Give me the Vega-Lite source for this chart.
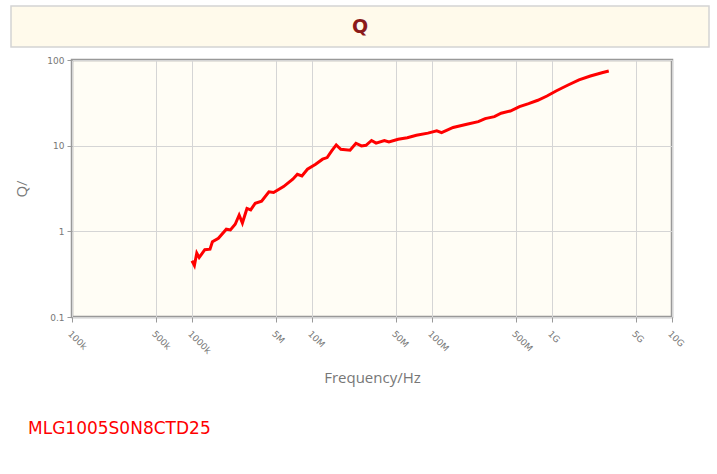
{
  "$schema": "https://vega.github.io/schema/vega-lite/v6.json",
  "padding": {"left": 10, "top": 5, "right": 5, "bottom": 5},
  "background": "white",
  "config": {"view": {"stroke": null}, "concat": {"spacing": 6}, "font": "DejaVu Sans"},
  "vconcat": [
    {
      "width": 698,
      "height": 41,
      "view": {"fill": "#fffaeb", "stroke": "#d4d4d4", "strokeWidth": 1.5},
      "data": {"values": [{"t": "Q"}]},
      "mark": {"type": "text", "fontSize": 19, "fontWeight": "bold", "color": "#8b1a1a", "font": "DejaVu Sans", "baseline": "middle"},
      "encoding": {"text": {"field": "t"}}
    },
    {
      "spacing": 0,
      "hconcat": [
        {
          "width": 1,
          "height": 1,
          "data": {"values": [{"t": ""}]},
          "mark": {"type": "text"},
          "encoding": {"text": {"field": "t"}}
        },
        {
          "width": 600,
          "height": 257,
          "view": {"fill": "#fffdf5", "stroke": "#999999", "strokeWidth": 2.5},
          "title": {"text": "MLG1005S0N8CTD25", "orient": "bottom", "anchor": "start", "color": "#ff0000", "fontSize": 17, "fontWeight": "normal", "font": "DejaVu Sans", "offset": 36, "dx": 14},
          "data": {"values": [
            {"f": 1.0e6, "q": 0.453},
            {"f": 1.047e6, "q": 0.40},
            {"f": 1.096e6, "q": 0.557},
            {"f": 1.148e6, "q": 0.495},
            {"f": 1.279e6, "q": 0.61},
            {"f": 1.413e6, "q": 0.62},
            {"f": 1.479e6, "q": 0.755},
            {"f": 1.66e6, "q": 0.83},
            {"f": 1.932e6, "q": 1.06},
            {"f": 2.089e6, "q": 1.04},
            {"f": 2.291e6, "q": 1.21},
            {"f": 2.472e6, "q": 1.55},
            {"f": 2.63e6, "q": 1.25},
            {"f": 2.871e6, "q": 1.85},
            {"f": 3.083e6, "q": 1.78},
            {"f": 3.365e6, "q": 2.13},
            {"f": 3.802e6, "q": 2.25},
            {"f": 4.375e6, "q": 2.89},
            {"f": 4.786e6, "q": 2.84},
            {"f": 5.794e6, "q": 3.33},
            {"f": 6.918e6, "q": 4.06},
            {"f": 7.551e6, "q": 4.64},
            {"f": 8.241e6, "q": 4.44},
            {"f": 9.162e6, "q": 5.31},
            {"f": 1.072e7, "q": 6.08},
            {"f": 1.225e7, "q": 6.95},
            {"f": 1.337e7, "q": 7.26},
            {"f": 1.459e7, "q": 8.69},
            {"f": 1.592e7, "q": 10.2},
            {"f": 1.738e7, "q": 9.08},
            {"f": 2.075e7, "q": 8.84},
            {"f": 2.323e7, "q": 10.67},
            {"f": 2.582e7, "q": 9.93},
            {"f": 2.818e7, "q": 10.1},
            {"f": 3.133e7, "q": 11.5},
            {"f": 3.42e7, "q": 10.7},
            {"f": 4.009e7, "q": 11.5},
            {"f": 4.375e7, "q": 11.07},
            {"f": 5.224e7, "q": 11.9},
            {"f": 6.223e7, "q": 12.4},
            {"f": 7.413e7, "q": 13.2},
            {"f": 9.247e7, "q": 14.0},
            {"f": 1.096e8, "q": 14.9},
            {"f": 1.202e8, "q": 14.2},
            {"f": 1.5e8, "q": 16.3},
            {"f": 1.95e8, "q": 17.8},
            {"f": 2.432e8, "q": 19.1},
            {"f": 2.773e8, "q": 20.7},
            {"f": 3.311e8, "q": 21.8},
            {"f": 3.767e8, "q": 23.9},
            {"f": 4.498e8, "q": 25.4},
            {"f": 5.358e8, "q": 28.6},
            {"f": 6.383e8, "q": 31.0},
            {"f": 7.621e8, "q": 33.9},
            {"f": 9.078e8, "q": 38.0},
            {"f": 1.081e9, "q": 43.5},
            {"f": 1.349e9, "q": 50.7},
            {"f": 1.679e9, "q": 58.5},
            {"f": 2.089e9, "q": 65.0},
            {"f": 2.606e9, "q": 71.1},
            {"f": 2.972e9, "q": 74.5}
          ]},
          "mark": {"type": "line", "color": "#ff0000", "strokeWidth": 3},
          "encoding": {
            "x": {
              "field": "f", "type": "quantitative",
              "scale": {"type": "log", "domain": [100000, 10000000000], "nice": false},
              "axis": {
                "values": [100000, 500000, 1000000, 5000000, 10000000, 50000000, 100000000, 500000000, 1000000000, 5000000000, 10000000000],
                "labelExpr": "datum.value < 1e6 ? (datum.value/1000) + 'k' : datum.value == 1e6 ? '1000k' : datum.value < 1e9 ? (datum.value/1e6) + 'M' : (datum.value/1e9) + 'G'",
                "labelAngle": 45, "labelAlign": "left", "labelBaseline": "top",
                "labelColor": "#777777", "labelFontSize": 9, "labelFont": "DejaVu Sans", "labelPadding": 7,
                "labelOverlap": false, "labelFlush": false,
                "domain": false, "tickColor": "#999999", "tickSize": 5,
                "grid": true, "gridColor": "#d5d5d5", "gridWidth": 1,
                "title": "Frequency/Hz", "titleColor": "#777777", "titleFontSize": 15, "titleFontWeight": "normal", "titleFont": "Open Sans",
                "titleY": 53, "titleBaseline": "top"
              }
            },
            "y": {
              "field": "q", "type": "quantitative",
              "scale": {"type": "log", "domain": [0.1, 100], "nice": false},
              "axis": {
                "values": [0.1, 1, 10, 100], "format": "~g",
                "labelColor": "#777777", "labelFontSize": 9, "labelFont": "DejaVu Sans", "labelPadding": 3,
                "labelOverlap": false, "labelFlush": false,
                "domain": false, "tickColor": "#999999", "tickSize": 5,
                "grid": true, "gridColor": "#d5d5d5", "gridWidth": 1,
                "title": "Q/", "titleColor": "#777777", "titleFontSize": 15, "titleFontWeight": "normal", "titleFont": "Open Sans",
                "titleX": -43
              }
            }
          }
        }
      ]
    }
  ]
}
